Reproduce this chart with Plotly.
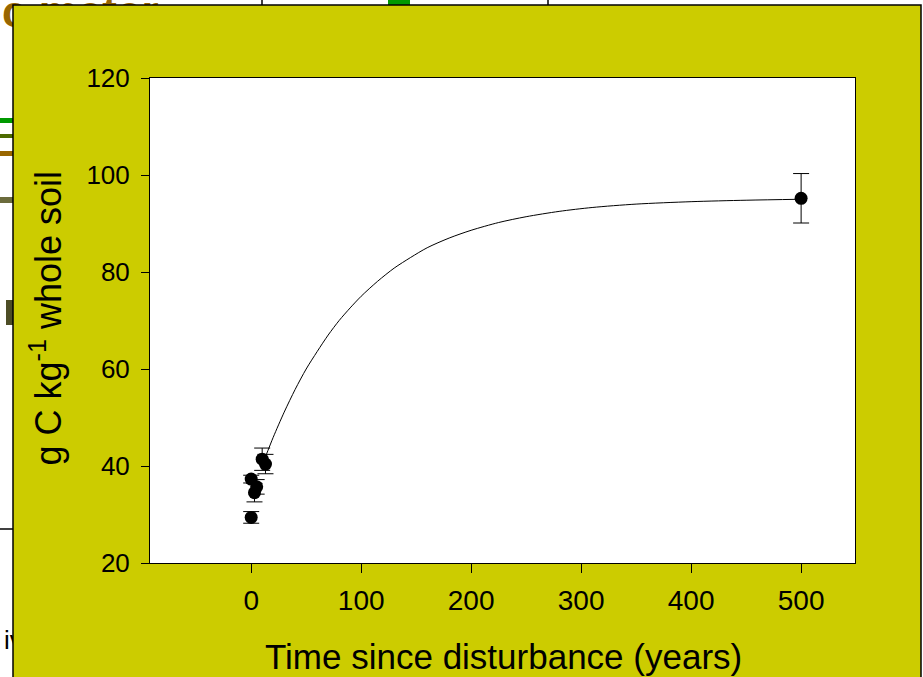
import plotly.graph_objects as go

# ---- data ----
time_years = [0, 0, 5, 3, 10, 13, 500]
carbon = [29.4, 37.3, 35.7, 34.5, 41.4, 40.4, 95.2]
carbon_err = [1.2, 0.8, 1.5, 1.9, 2.3, 2.0, 5.1]

fit_x = [13, 20, 30, 40, 50, 60, 70, 80, 90, 100, 115, 130, 145, 160, 180, 200, 225, 250, 280, 310, 350, 400, 450, 500]
fit_y = [41.9, 45.9, 51.1, 55.8, 60.0, 63.6, 67.0, 70.0, 72.6, 75.0, 78.1, 80.8, 83.0, 85.0, 87.0, 88.6, 90.2, 91.4, 92.5, 93.3, 94.0, 94.5, 94.8, 95.0]

x_ticks = [0, 100, 200, 300, 400, 500]
y_ticks = [20, 40, 60, 80, 100, 120]

x_title = "Time since disturbance (years)"
y_title = "g C kg<sup>-1</sup> whole soil"

FONT = "Liberation Sans, Arial, sans-serif"
OLIVE = "#CCCC00"

W, H = 923, 677
L, R, T, B = 150, 855, 78, 563


def px(xp):
    return (xp - L) / (R - L)


def py(yp):
    return (B - yp) / (B - T)


fig = go.Figure()

fig.add_trace(go.Scatter(
    x=fit_x, y=fit_y, mode="lines",
    line=dict(color="black", width=1, shape="spline", smoothing=0.8),
    hoverinfo="skip", showlegend=False,
))

fig.add_trace(go.Scatter(
    x=time_years, y=carbon, mode="markers",
    marker=dict(color="black", size=13),
    error_y=dict(type="data", array=carbon_err, color="black", thickness=1, width=8),
    showlegend=False,
))

shapes = []
# background slide clutter (left strip / top edge), drawn before the olive panel
clutter = [
    ("#009900", 0, 118, 14, 123),
    ("#4D6B00", 0, 134, 14, 138),
    ("#996600", 0, 151, 14, 156),
    ("#6B6B3C", 0, 197, 14, 203),
    ("#4D4D26", 6, 300, 14, 325),
    ("#009900", 388, 0, 410, 6),
]
for col, x0, y0, x1, y1 in clutter:
    shapes.append(dict(type="rect", xref="paper", yref="paper",
                       x0=px(x0), x1=px(x1), y0=py(y1), y1=py(y0),
                       fillcolor=col, line=dict(width=0), layer="below"))
for xv in (262, 548):
    shapes.append(dict(type="line", xref="paper", yref="paper",
                       x0=px(xv), x1=px(xv), y0=py(0), y1=py(6),
                       line=dict(color="black", width=1.5), layer="below"))
shapes.append(dict(type="line", xref="paper", yref="paper",
                   x0=px(0), x1=px(14), y0=py(529), y1=py(529),
                   line=dict(color="black", width=1.5), layer="below"))
shapes.append(dict(type="rect", xref="paper", yref="paper",
                   x0=px(-4), x1=px(200), y0=py(30), y1=py(-16),
                   line=dict(width=0), fillcolor="rgba(0,0,0,0)", layer="below",
                   label=dict(text="<b>c meter</b>", font=dict(family=FONT, size=44, color="#996600"),
                              textposition="middle left")))
shapes.append(dict(type="rect", xref="paper", yref="paper",
                   x0=px(-2), x1=px(30), y0=py(660), y1=py(615),
                   line=dict(width=0), fillcolor="rgba(0,0,0,0)", layer="below",
                   label=dict(text="iv", font=dict(family=FONT, size=26, color="black"),
                              textposition="middle left")))
# olive panel
shapes.append(dict(type="rect", xref="paper", yref="paper",
                   x0=px(13), x1=px(921), y0=py(690), y1=py(5),
                   fillcolor=OLIVE, line=dict(color="black", width=1.5), layer="below"))
# white plot area
shapes.append(dict(type="rect", xref="paper", yref="paper",
                   x0=0, x1=1, y0=0, y1=1,
                   fillcolor="white", line=dict(width=0), layer="below"))

fig.update_layout(
    width=W, height=H,
    margin=dict(l=L, r=W - R, t=T, b=H - B, pad=0),
    paper_bgcolor="white", plot_bgcolor="white",
    font=dict(family=FONT, color="black"),
    shapes=shapes,
    annotations=[
        dict(text=x_title, xref="paper", yref="paper", x=px(503.5), y=py(656),
             xanchor="center", yanchor="middle", showarrow=False,
             font=dict(family=FONT, size=35, color="black")),
        dict(text=y_title, xref="paper", yref="paper", x=px(45), y=py(318.5),
             xanchor="center", yanchor="middle", showarrow=False, textangle=-90,
             font=dict(family=FONT, size=36, color="black")),
    ],
)

fig.update_xaxes(
    range=[-92, 549], tickvals=x_ticks, ticktext=[str(v) for v in x_ticks],
    ticks="outside", ticklen=9, tickwidth=1, tickcolor="black",
    showline=True, mirror=True, linecolor="black", linewidth=1,
    showgrid=False, zeroline=False, ticklabelstandoff=3,
    tickfont=dict(family=FONT, size=28, color="black"),
)
fig.update_yaxes(
    range=[20, 120], tickvals=y_ticks, ticktext=[str(v) for v in y_ticks],
    ticks="outside", ticklen=8, tickwidth=1, tickcolor="black",
    showline=True, mirror=True, linecolor="black", linewidth=1,
    showgrid=False, zeroline=False, ticklabelstandoff=6,
    tickfont=dict(family=FONT, size=26, color="black"),
)

fig.write_html(
    "out.html",
    config={"displayModeBar": False},
    post_script="document.body.style.margin='0';document.body.style.overflow='hidden';",
)
